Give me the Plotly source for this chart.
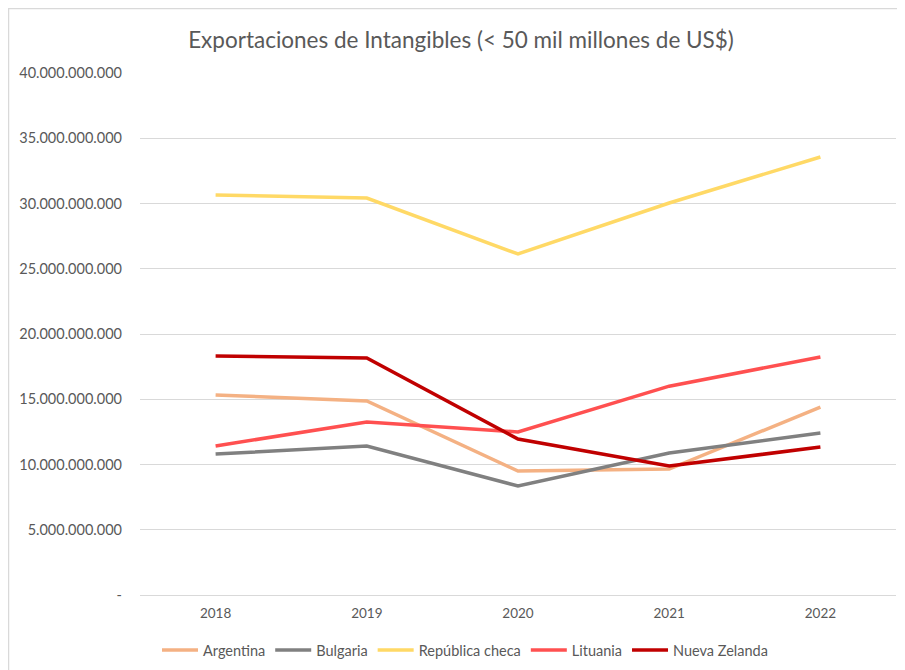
import plotly.graph_objects as go

years = ["2018", "2019", "2020", "2021", "2022"]
argentina = [15.33e9, 14.87e9, 9.50e9, 9.65e9, 14.40e9]
bulgaria = [10.80e9, 11.42e9, 8.35e9, 10.88e9, 12.41e9]
rep_checa = [30.65e9, 30.42e9, 26.13e9, 30.04e9, 33.56e9]
lituania = [11.42e9, 13.26e9, 12.49e9, 16.00e9, 18.24e9]
nueva_zelanda = [18.31e9, 18.16e9, 11.95e9, 9.88e9, 11.34e9]

series = [
    ("Argentina", argentina, "#F4B183"),
    ("Bulgaria", bulgaria, "#808080"),
    ("República checa", rep_checa, "#FFD966"),
    ("Lituania", lituania, "#FF5050"),
    ("Nueva Zelanda", nueva_zelanda, "#C00000"),
]

tick_vals = [0, 5e9, 10e9, 15e9, 20e9, 25e9, 30e9, 35e9, 40e9]
tick_text = ["-", "5.000.000.000", "10.000.000.000", "15.000.000.000", "20.000.000.000",
             "25.000.000.000", "30.000.000.000", "35.000.000.000", "40.000.000.000"]

FONT = "Lato, Open Sans, sans-serif"

fig = go.Figure()
for name, vals, col in series:
    fig.add_trace(go.Scatter(x=years, y=vals, name=name, mode="lines",
                             line=dict(color=col, width=3.5)))

# page is rendered with an 8px body margin; figure coords = page coords - 8
W, H = 897, 662
L, R, T, B = 132, 9, 65, 75
pw, ph = W - L - R, H - T - B

fig.update_layout(
    width=W, height=H,
    margin=dict(l=L, r=R, t=T, b=B, autoexpand=False),
    paper_bgcolor="white", plot_bgcolor="white",
    font=dict(family=FONT, color="#595959", size=13),
    title=dict(text="Exportaciones de Intangibles (< 50 mil millones de US$)",
               x=453 / W, xanchor="center", y=1 - 32 / H, yanchor="middle",
               font=dict(size=22.5, color="#595959", family=FONT)),
    xaxis=dict(type="category", range=[-0.5, 4.5], showgrid=False, showline=False, ticks="",
               tickfont=dict(size=13.5, color="#595959"), ticklabelstandoff=8),
    yaxis=dict(range=[0, 40e9], tickvals=tick_vals, ticktext=tick_text,
               showgrid=True, gridcolor="#D9D9D9", gridwidth=1,
               zeroline=True, zerolinecolor="#D9D9D9", zerolinewidth=1,
               showline=False, ticks="", ticklabelstandoff=17,
               tickfont=dict(size=14.5, color="#595959")),
    legend=dict(orientation="h", x=(457 - L) / pw, xanchor="center",
                y=-(642 - (T + ph)) / ph, yanchor="middle",
                font=dict(size=14.5, color="#595959"), itemwidth=36,
                traceorder="normal", tracegroupgap=0),
    showlegend=True,
)

# outer border (left and top edges visible; right/bottom run off the page)
fig.add_shape(type="rect", xref="paper", yref="paper",
              x0=(0.5 - L) / pw, x1=(W + 5 - L) / pw,
              y0=(T + ph - H - 5) / ph, y1=(T + ph - 0.5) / ph,
              line=dict(color="#D9D9D9", width=1.5), fillcolor="rgba(0,0,0,0)", layer="below")

fig.write_html("out.html")
